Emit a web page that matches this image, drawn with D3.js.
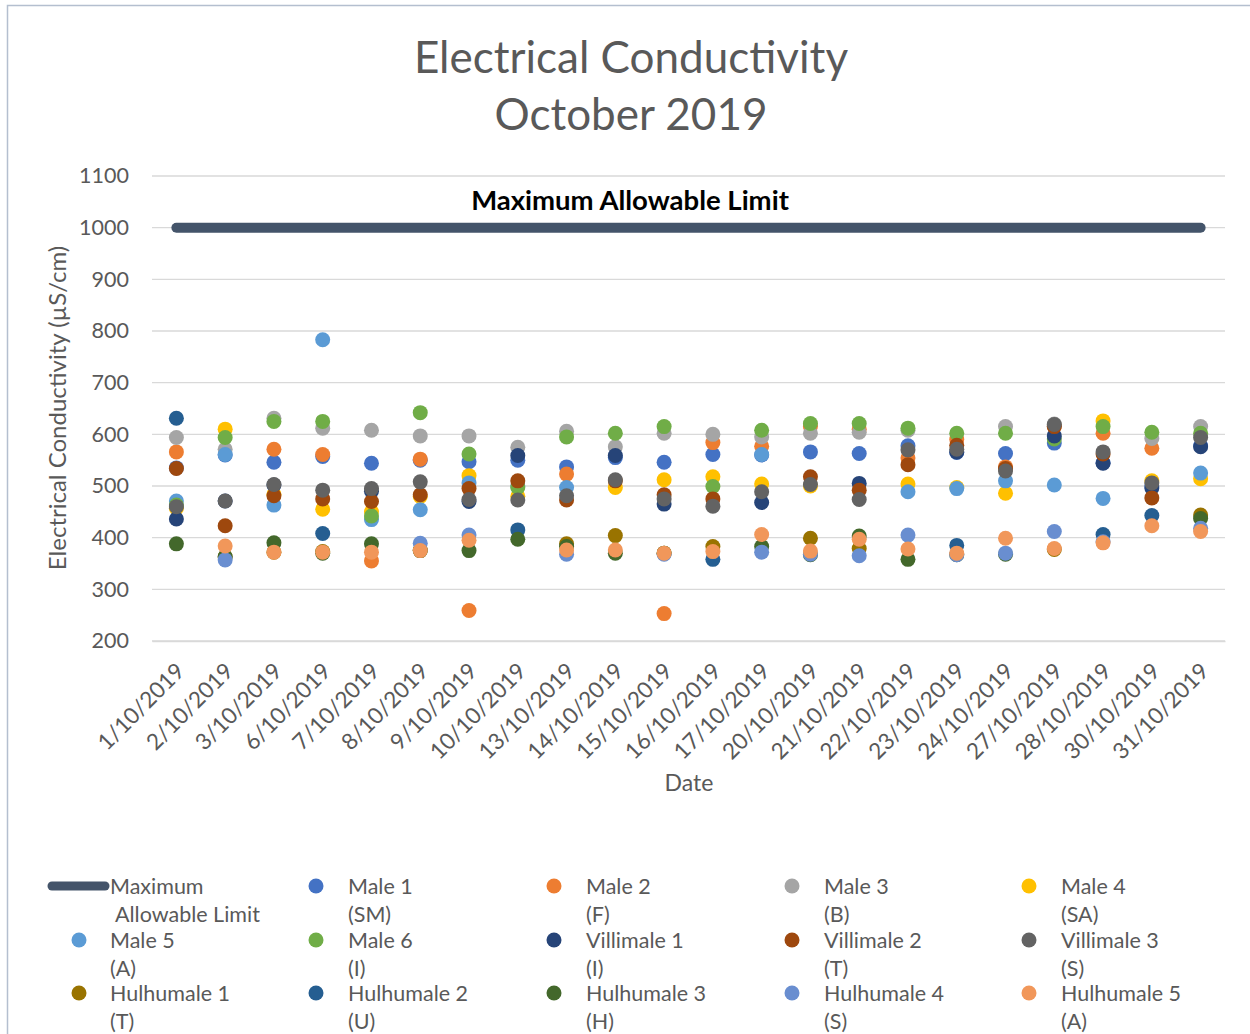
<!DOCTYPE html>
<html><head><meta charset="utf-8">
<script src="https://cdn.jsdelivr.net/npm/d3@7"></script>
<style>body{margin:0;background:#fff}svg{display:block}text{font-family:Lato,"Open Sans",sans-serif}</style>
</head><body>
<svg id="c" width="1250" height="1034"></svg>
<script>
const dates = ["1/10/2019","2/10/2019","3/10/2019","6/10/2019","7/10/2019","8/10/2019","9/10/2019","10/10/2019","13/10/2019","14/10/2019","15/10/2019","16/10/2019","17/10/2019","20/10/2019","21/10/2019","22/10/2019","23/10/2019","24/10/2019","27/10/2019","28/10/2019","30/10/2019","31/10/2019"];
const yTicks = [200,300,400,500,600,700,800,900,1000,1100];
const maxLimit = 1000;
const male1 = [535,560,546,557,544,550,547,550,537,555,546,561,560,566,563,578,565,563,583,545,500,578];
const male2 = [566,null,571,561,355,552,259,null,523,null,253,584,577,615,610,554,590,537,615,602,573,null];
const male3 = [594,571,631,612,608,597,597,575,606,576,602,600,595,602,604,608,null,615,620,null,592,615];
const male4 = [457,610,484,455,450,480,520,480,null,497,512,518,504,500,null,504,497,486,null,626,510,514];
const male5 = [471,561,463,783,435,454,506,500,497,null,null,null,561,null,null,489,495,510,502,476,null,525];
const male6 = [463,594,625,625,442,642,562,497,595,602,615,499,608,621,621,612,602,602,591,615,604,602];
const villimale1 = [436,471,502,null,490,null,470,559,null,559,465,null,468,null,505,null,566,null,597,544,496,576];
const villimale2 = [534,423,481,475,470,483,495,510,473,510,483,475,null,518,492,541,579,534,615,562,477,null];
const villimale3 = [460,471,503,492,495,508,474,473,481,512,475,461,489,503,474,570,571,529,619,566,506,594];
const hulhumale1 = [null,363,372,373,null,375,null,null,388,404,370,383,null,399,379,null,null,null,377,null,null,444];
const hulhumale2 = [631,null,null,408,null,null,null,415,null,null,null,358,null,null,null,null,385,null,null,406,443,null];
const hulhumale3 = [388,363,390,370,388,375,375,397,383,370,370,null,383,367,403,358,367,368,null,null,null,437];
const hulhumale4 = [null,357,null,null,null,389,405,null,368,null,368,null,372,368,365,405,367,370,412,392,null,418];
const hulhumale5 = [null,384,372,372,372,375,395,null,376,376,370,373,406,374,397,378,370,399,379,390,423,412];

const seriesNames = [["Male 1","(SM)"],["Male 2","(F)"],["Male 3","(B)"],["Male 4","(SA)"],["Male 5","(A)"],["Male 6","(I)"],["Villimale 1","(I)"],["Villimale 2","(T)"],["Villimale 3","(S)"],["Hulhumale 1","(T)"],["Hulhumale 2","(U)"],["Hulhumale 3","(H)"],["Hulhumale 4","(S)"],["Hulhumale 5","(A)"]];
const seriesValues = [male1,male2,male3,male4,male5,male6,villimale1,villimale2,villimale3,hulhumale1,hulhumale2,hulhumale3,hulhumale4,hulhumale5];
const colors = ["#4472C4","#ED7D31","#A5A5A5","#FFC000","#5B9BD5","#70AD47","#264478","#9E480E","#636363","#997300","#255E91","#43682B","#698ED0","#F1975A"];
const lineColor = "#44546A";

const svg = d3.select("#c");
const txt = "#595959";

// chart border
svg.append("rect").attr("x",7.5).attr("y",5.5).attr("width",1300).attr("height",1100)
  .attr("fill","none").attr("stroke","#B4BFCF").attr("stroke-width",1.5);

// title
svg.append("text").attr("x",631).attr("y",73).attr("text-anchor","middle")
  .attr("font-size",44).attr("font-weight",400).attr("fill",txt).text("Electrical Conductivity");
svg.append("text").attr("x",631).attr("y",130).attr("text-anchor","middle")
  .attr("font-size",44).attr("font-weight",400).attr("fill",txt).text("October 2019");

const x = d3.scaleBand().domain(dates).range([152,1225]).padding(0);
const y = d3.scaleLinear().domain([200,1100]).range([641,176]);
const cx = d => x(d) + x.bandwidth()/2;

// gridlines
svg.append("g").selectAll("line").data(yTicks).join("line")
  .attr("x1",152).attr("x2",1225).attr("y1",d=>y(d)).attr("y2",d=>y(d))
  .attr("stroke","#D9D9D9").attr("stroke-width",1.3);

// y axis labels
const ya = svg.append("g").attr("transform","translate(152,0)")
  .call(d3.axisLeft(y).tickValues(yTicks).tickFormat(d3.format("d")).tickSize(0).tickPadding(23));
ya.select(".domain").remove();
ya.selectAll("text").attr("font-size",21.5).attr("fill",txt).attr("font-family","Lato");

// x axis labels
const xa = svg.append("g").attr("transform","translate(0,641)")
  .call(d3.axisBottom(x).tickSize(0));
xa.select(".domain").attr("stroke","#D9D9D9").attr("stroke-width",1.3);
xa.selectAll("text").attr("font-size",22.5).attr("fill",txt).attr("font-family","Lato")
  .attr("text-anchor","end").attr("transform","translate(4,26) rotate(-45)").attr("dy","0.35em").attr("y",0);

// axis titles
svg.append("text").attr("transform","translate(66,408) rotate(-90)").attr("text-anchor","middle")
  .attr("font-size",24).attr("fill",txt).text("Electrical Conductivity (µS/cm)");
svg.append("text").attr("x",689).attr("y",791).attr("text-anchor","middle")
  .attr("font-size",23).attr("fill",txt).text("Date");

// maximum allowable limit line
const line = d3.line().x(d=>cx(d)).y(()=>y(maxLimit));
svg.append("path").datum(dates).attr("d",line).attr("fill","none")
  .attr("stroke",lineColor).attr("stroke-width",10).attr("stroke-linecap","round");
svg.append("text").attr("x",630).attr("y",210).attr("text-anchor","middle")
  .attr("font-size",27.5).attr("font-weight",700).attr("fill","#000").text("Maximum Allowable Limit");

// points
seriesValues.forEach((vals,i)=>{
  svg.append("g").selectAll("circle")
    .data(dates.map((d,j)=>({d, v: vals[j]})).filter(p=>p.v!=null))
    .join("circle").attr("cx",p=>cx(p.d)).attr("cy",p=>y(p.v)).attr("r",7.5)
    .attr("fill",colors[i]);
});

// legend
const colX = [110,348,586,824,1061];
const rowY = [894,948,1001];
const fs = 21.5;
const leg = svg.append("g");
leg.append("line").attr("x1",52).attr("x2",105).attr("y1",886).attr("y2",886)
  .attr("stroke",lineColor).attr("stroke-width",9).attr("stroke-linecap","round");
leg.append("text").attr("x",110).attr("y",894).attr("font-size",fs).attr("fill",txt).text("Maximum");
leg.append("text").attr("x",115).attr("y",922).attr("font-size",fs).attr("fill",txt).text("Allowable Limit");
seriesNames.forEach((nm,i)=>{
  const k = i+1, r = Math.floor(k/5), c = k%5;
  const tx = colX[c], ty = rowY[r];
  leg.append("circle").attr("cx", c===0 ? 79 : tx-32).attr("cy",ty-8).attr("r",7.5).attr("fill",colors[i]);
  leg.append("text").attr("x",tx).attr("y",ty).attr("font-size",fs).attr("fill",txt).text(nm[0]);
  leg.append("text").attr("x",tx).attr("y",ty+28).attr("font-size",fs).attr("fill",txt).text(nm[1]);
});
</script>
</body></html>
